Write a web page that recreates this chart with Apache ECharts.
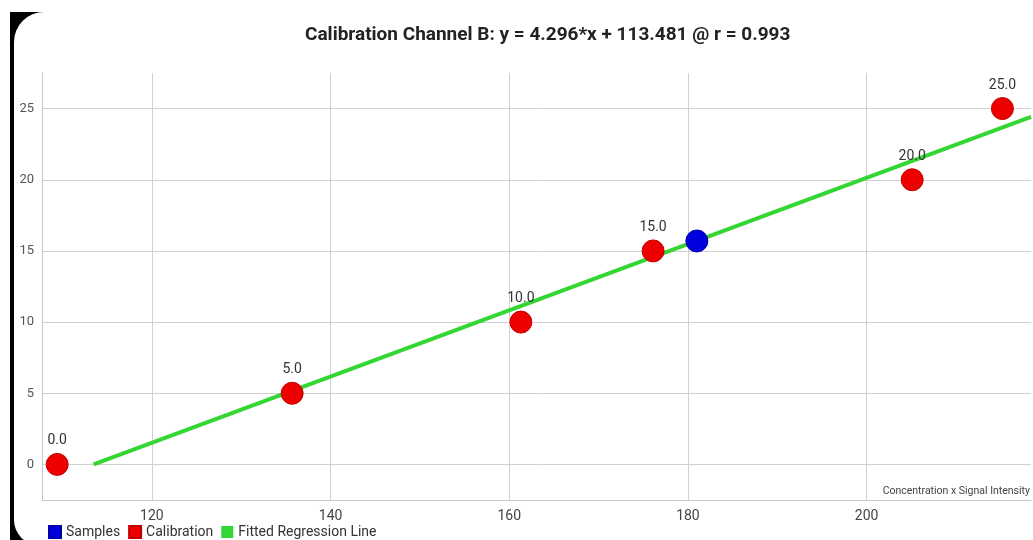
<!DOCTYPE html>
<html><head><meta charset="utf-8">
<script src="https://cdn.jsdelivr.net/npm/echarts@6/dist/echarts.min.js"></script>
<style>html,body{margin:0;padding:0;background:#fff}#c{width:1033px;height:540px}</style>
</head><body><div id="c"></div>
<script>
// Data
const calibX = [109.4, 135.7, 161.3, 176.1, 205.1, 215.2];
const calibY = [0, 5, 10, 15, 20, 25];
const sampleX = [181.0];
const sampleY = [15.7];
const fitX = [113.481, 218.4];
const fitY = [0, 24.42];
const titleText = 'Calibration Channel B: y = 4.296*x + 113.481 @ r = 0.993';
const xName = 'Concentration x Signal Intensity';
const legendNames = ['Samples', 'Calibration', 'Fitted Regression Line'];

const chart = echarts.init(document.getElementById('c'), null, {renderer: 'canvas'});
const font = 'Roboto';
chart.setOption({
  backgroundColor: '#fff',
  animation: false,
  textStyle: {fontFamily: font},
  graphic: [
    {type: 'rect', z: -10, shape: {x: 10, y: 12, width: 1100, height: 600}, style: {fill: '#000'}, silent: true},
    {type: 'rect', z: -9, shape: {x: 14, y: 12, width: 1100, height: 533, r: [30, 0, 0, 25]}, style: {fill: '#fff'}, silent: true}
  ],
  title: {
    text: titleText, left: 300, top: 21,
    textStyle: {fontFamily: font, fontSize: 19, fontWeight: 'bold', color: '#222'}
  },
  legend: {
    left: 43, top: 520, itemWidth: 12, itemHeight: 12, itemGap: 8,
    icon: 'rect',
    textStyle: {fontFamily: font, fontSize: 14, color: '#333'},
    data: legendNames
  },
  grid: {left: 42, right: 2, top: 73, bottom: 40, containLabel: false},
  xAxis: {
    type: 'value', min: 107.7, max: 218.4, splitNumber: 5,
    name: xName, nameLocation: 'end', nameGap: -1,
    nameTextStyle: {fontFamily: font, fontSize: 10.5, color: '#444', align: 'right', verticalAlign: 'bottom', padding: [0, 0, 3, 0]},
    axisLine: {show: true, onZero: false, lineStyle: {color: '#c8c8c8', width: 1}},
    axisTick: {show: false},
    axisLabel: {showMinLabel: false, showMaxLabel: false, fontSize: 14, color: '#444', margin: 9},
    splitLine: {show: true, showMinLine: false, showMaxLine: false, lineStyle: {color: '#d0d0d0', width: 1}}
  },
  yAxis: {
    type: 'value', min: -2.5, max: 27.5, splitNumber: 6,
    axisLine: {show: true, onZero: false, lineStyle: {color: '#c8c8c8', width: 1}},
    axisTick: {show: false},
    axisLabel: {showMinLabel: false, showMaxLabel: false, fontSize: 13, color: '#555', margin: 8},
    splitLine: {show: true, showMinLine: false, showMaxLine: false, lineStyle: {color: '#d0d0d0', width: 1}}
  },
  series: [
    {
      name: legendNames[0], type: 'scatter', z: 5, symbolSize: 22,
      itemStyle: {color: '#0000dd', borderColor: '#0000aa', borderWidth: 1, opacity: 1},
      data: sampleX.map((x, i) => [x, sampleY[i]])
    },
    {
      name: legendNames[1], type: 'scatter', z: 4, symbolSize: 22,
      itemStyle: {color: '#ee0000', borderColor: '#c00000', borderWidth: 1, opacity: 1},
      label: {show: true, position: 'top', distance: 5, fontSize: 14, color: '#333',
        formatter: p => p.value[1].toFixed(1)},
      data: calibX.map((x, i) => [x, calibY[i]])
    },
    {
      name: legendNames[2], type: 'line', z: 3, symbol: 'none', silent: true,
      lineStyle: {color: '#33d633', width: 4},
      itemStyle: {color: '#33d633'},
      data: fitX.map((x, i) => [x, fitY[i]])
    }
  ]
});
</script></body></html>
